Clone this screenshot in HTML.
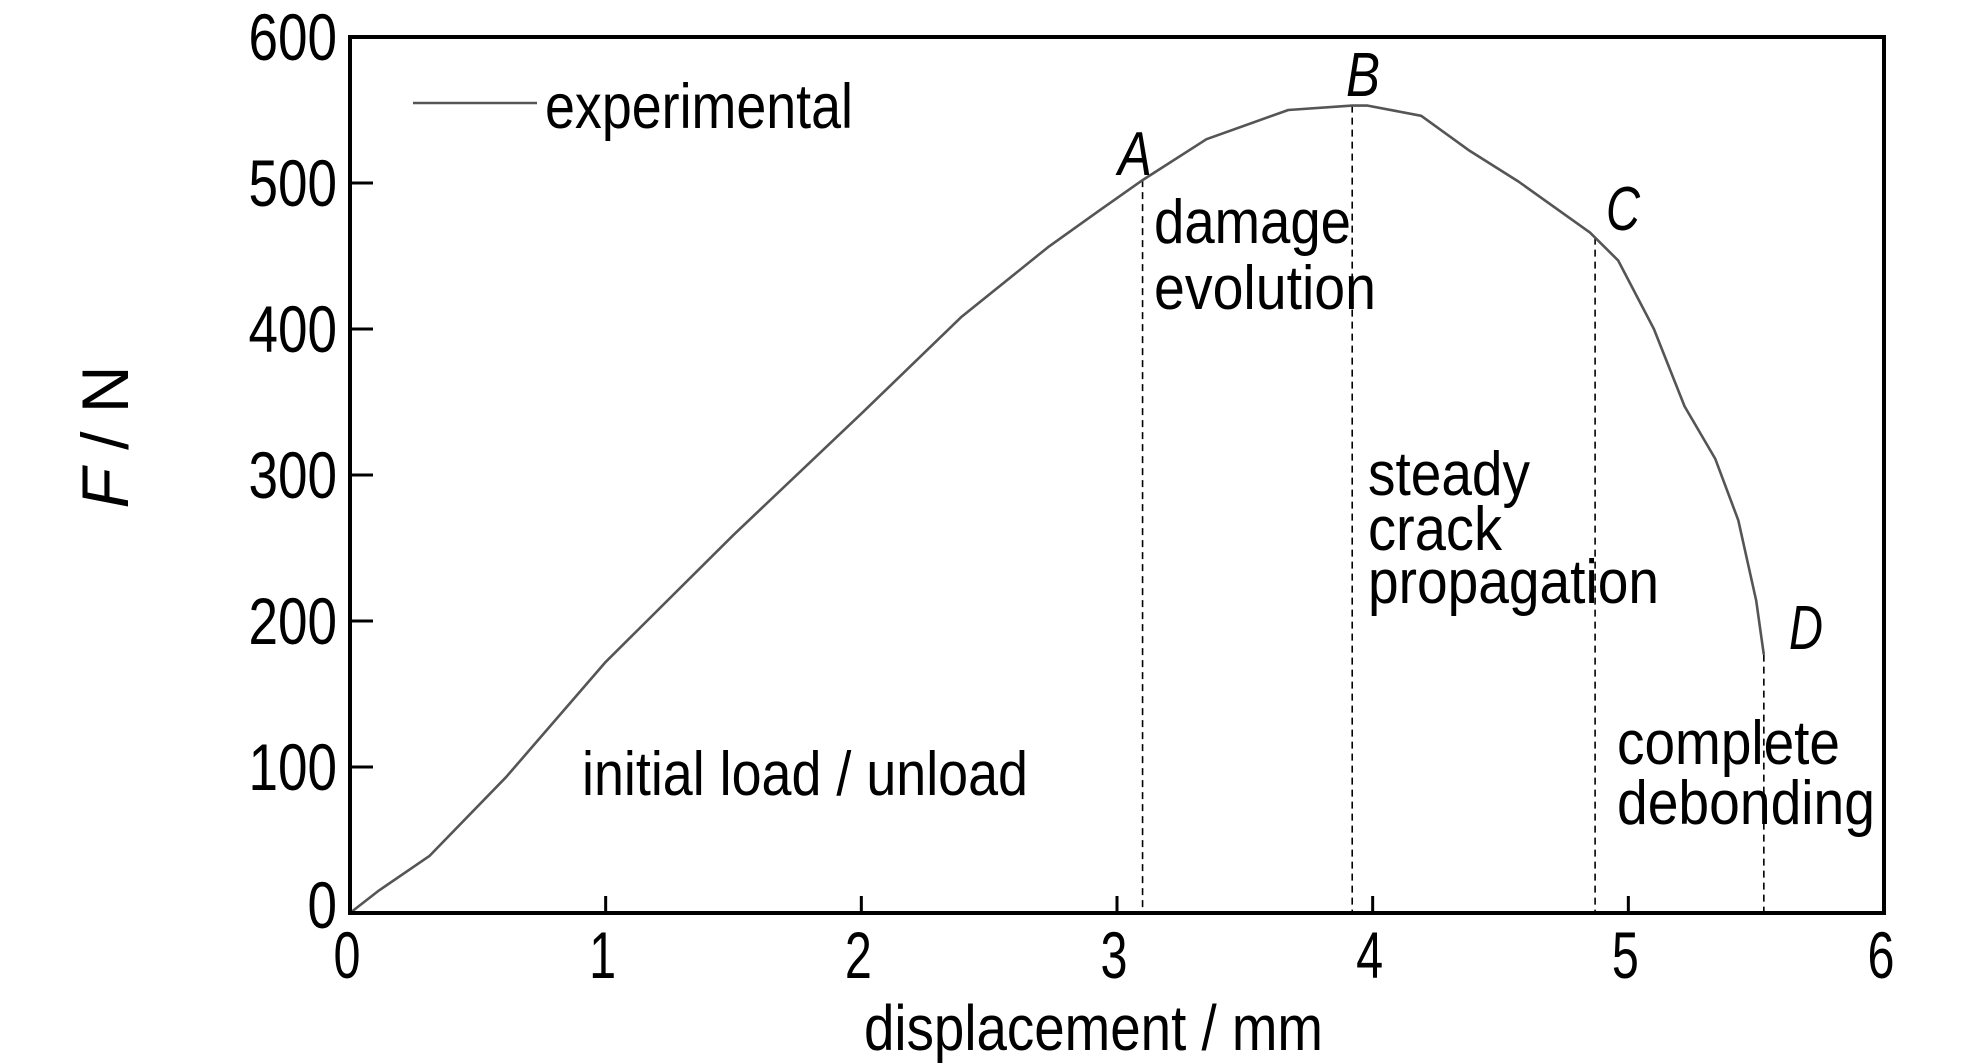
<!DOCTYPE html>
<html><head><meta charset="utf-8"><style>
html,body{margin:0;padding:0;background:#fff;}
svg{display:block;font-family:"Liberation Sans",sans-serif;}
</style></head><body>
<svg id="chart" width="1984" height="1063" viewBox="0 0 1984 1063" xmlns="http://www.w3.org/2000/svg">
<rect x="0" y="0" width="1984" height="1063" fill="#fff"/>
<g id="plot"></g>
</svg>
<script>
const xTicks=[0,1,2,3,4,5,6];
const yTicks=[0,100,200,300,400,500,600];
const xTickLabels=["0","1","2","3","4","5","6"];
const yTickLabels=["0","100","200","300","400","500","600"];
const dispX=[0,0.11,0.31,0.61,1.0,1.5,2.0,2.39,2.73,2.93,3.10,3.35,3.67,3.92,3.98,4.19,4.38,4.57,4.85,4.96,5.10,5.22,5.34,5.43,5.50,5.53];
const forceY=[0,15,39,93,172,259,342,408,456,481,502,530,550,553,553,546,522,501,466,447,400,347,311,269,214,177];
const markerNames=["A","B","C","D"];
const markerX=[3.10,3.92,4.87,5.53];

const X0=350,X1=1884,Y0=913,Y1=37;
const sx=v=>X0+(v-0)/(6-0)*(X1-X0);
const sy=v=>Y0-(v-0)/(600-0)*(Y0-Y1);
const NS="http://www.w3.org/2000/svg";
const g=document.getElementById('plot');
function mk(tag,attrs,parent){const e=document.createElementNS(NS,tag);for(const k in attrs)e.setAttribute(k,attrs[k]);(parent||g).appendChild(e);return e;}
function txt(s,x,y,size,opts){const e=mk('text',{x:x,y:y,'font-size':size,fill:'#000'});e.textContent=s;if(opts){for(const k in opts)e.setAttribute(k,opts[k]);}return e;}
function interpF(x){for(let i=0;i<dispX.length-1;i++){if(x>=dispX[i]&&x<=dispX[i+1]){const t=(x-dispX[i])/(dispX[i+1]-dispX[i]);return forceY[i]+t*(forceY[i+1]-forceY[i]);}}return forceY[forceY.length-1];}

// dashed stage lines
markerX.forEach((m,i)=>{
  const l=mk('line',{x1:sx(m),y1:sy(interpF(m)),x2:sx(m),y2:Y0,stroke:'#000','stroke-width':1.6,'stroke-dasharray':'7,5'});
  
  
});

// curve
let d='';
dispX.forEach((x,i)=>{d+=(i?'L':'M')+sx(x).toFixed(1)+','+sy(forceY[i]).toFixed(1);});
const curve=mk('path',{d:d,fill:'none',stroke:'#555','stroke-width':2.6,'stroke-linejoin':'round'});



// frame
const fr=mk('rect',{x:X0,y:Y1,width:X1-X0,height:Y0-Y1,fill:'none',stroke:'#000','stroke-width':4});



// x ticks
xTicks.forEach((v,i)=>{
  if(v>0&&v<6){const t=mk('line',{x1:sx(v),y1:Y0,x2:sx(v),y2:Y0-17,stroke:'#000','stroke-width':3});
  
  }
  const lb=txt(xTickLabels[i],sx(v)-3,978,66,{'text-anchor':'middle',textLength:27,lengthAdjust:'spacingAndGlyphs'});
  
  
});
// y ticks
yTicks.forEach((v,i)=>{
  if(v>0&&v<600){const t=mk('line',{x1:X0,y1:sy(v),x2:X0+23,y2:sy(v),stroke:'#000','stroke-width':3});
  
  }
  const s=yTickLabels[i];
  const lb=txt(s,337,sy(v)+(v===0?15:23),66,{'text-anchor':'end',textLength:s.length*29.5,lengthAdjust:'spacingAndGlyphs'});
  
  
});

// axis titles
const xt=txt('displacement / mm',864,1050,64,{textLength:459,lengthAdjust:'spacingAndGlyphs'});


const yt=mk('text',{x:0,y:0,'font-size':66,fill:'#000','text-anchor':'middle',transform:'translate(128,437) rotate(-90)'});
yt.innerHTML='<tspan font-style="italic">F</tspan> / N';



// legend
const ll=mk('line',{x1:413,y1:103,x2:537,y2:103,stroke:'#555','stroke-width':2.6});


const lt=txt('experimental',545,128,63,{textLength:308,lengthAdjust:'spacingAndGlyphs'});



// point labels
const ptPos=[[1118,175],[1346,96],[1606,230],[1789,649]];
markerNames.forEach((n,i)=>{
  const t=txt(n,ptPos[i][0],ptPos[i][1],62,{'font-style':'italic',textLength:34,lengthAdjust:'spacingAndGlyphs'});
  
  
});

// stage annotations
const ann=[["initial load / unload",582,795,446],["damage",1154,243,197],["evolution",1154,309,222],["steady",1368,495,162],["crack",1368,550,134],["propagation",1368,603,291],["complete",1617,764,223],["debonding",1617,824,258]];
ann.forEach(a=>{
  const t=txt(a[0],a[1],a[2],62,{textLength:a[3],lengthAdjust:'spacingAndGlyphs'});
  
  
});
</script>
</body></html>
